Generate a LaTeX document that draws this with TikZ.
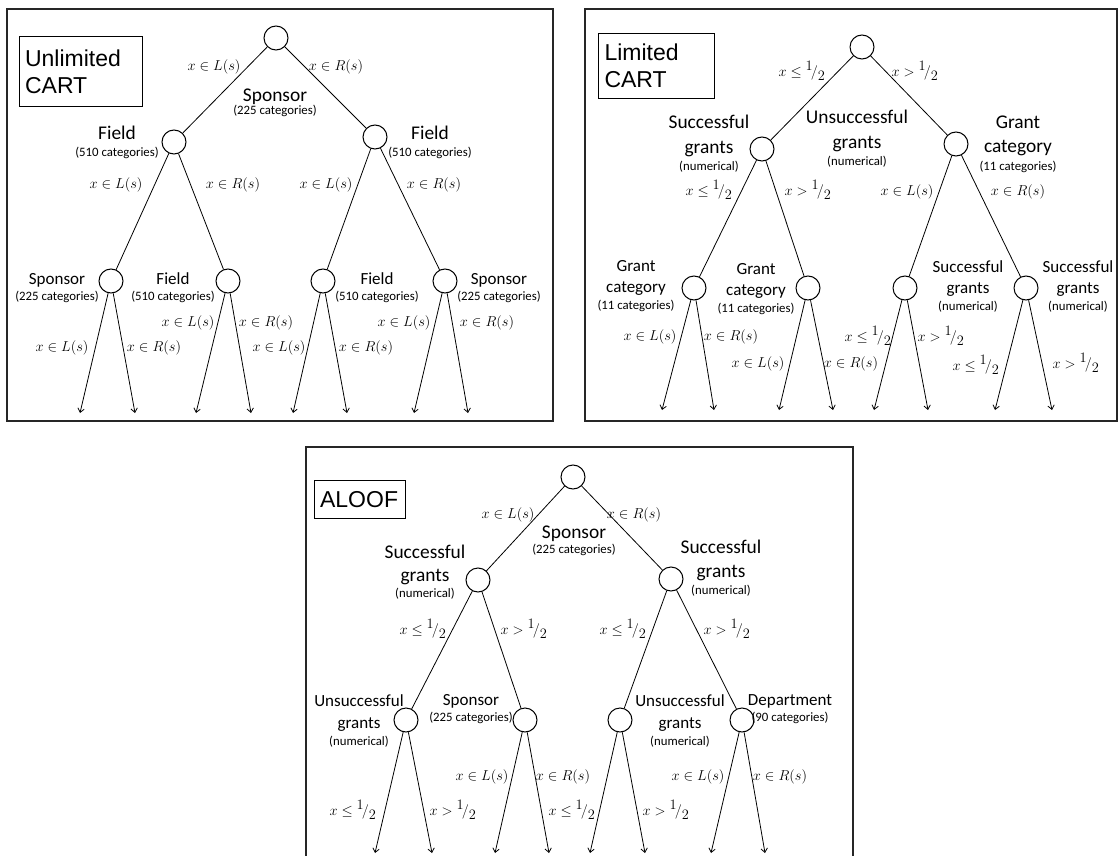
\documentclass[tikz,border=0pt]{standalone}
\usepackage[no-math]{fontspec}
\setmainfont{Carlito}
\newfontfamily\boxfont{Liberation Sans}
\usetikzlibrary{arrows.meta}
\newcommand\smtxt{\fontsize{12.8}{15}\selectfont}
\newcommand\halfv{{}^{\textstyle 1}\!/_{\textstyle 2}}
\newcommand\condL{$x\in L(s)$}
\newcommand\condR{$x\in R(s)$}
\newcommand\condLe{$x\le\halfv$}
\newcommand\condGt{$x>\halfv$}
\tikzset{
  >={Straight Barb[length=4pt,width=6.5pt]},
  split/.style={circle,draw,line width=1pt,minimum size=24pt,inner sep=0pt},
  desc/.style={font=\fontsize{19.4}{22}\selectfont,align=center,inner sep=0pt},
  desc2/.style={desc,font=\fontsize{17}{20}\selectfont},
  cond/.style={font=\fontsize{14.5}{16}\selectfont,inner sep=0pt},
  branch/.style={line width=0.8pt},
  leaf/.style={branch,->},
  panel/.style={draw=black!85,line width=1.3pt},
  titlebox/.style={draw,line width=1pt,anchor=north west,align=left,inner xsep=6pt,inner ysep=0pt,font=\boxfont\fontsize{23}{27}\selectfont},
}
\begin{document}
\begin{tikzpicture}[x=1pt,y=-1pt]
\fill[white] (0,0) rectangle (1119,856);
\useasboundingbox (0,0) rectangle (1119,856);
\draw[panel] (7,9) rectangle (553,421);
\draw[panel] (585,9) rectangle (1117,421);
\draw[panel] (306,447) rectangle (853,880);
\node[titlebox,text width=111pt,minimum height=70pt] (tA) at (18.6,36) {Unlimited\\CART};
\node[titlebox,text width=104pt,minimum height=65pt] (tB) at (598,33) {Limited\\CART};
\node[titlebox,text width=79pt,minimum height=38pt] (tC) at (313.6,480) {ALOOF};
\foreach \n/\x/\y in {a0/276/38,a1/174/142,a2/375/137,a3/111/281,a4/228/281,a5/323/281,a6/445/281,
  b0/862/47,b1/762/149,b2/956/144,b3/694/288,b4/808/288,b5/905/288,b6/1026/288,
  c0/573/477,c1/478/580,c2/671/579,c3/406/720,c4/525/720,c5/620/720,c6/742/720}
  \node[split] (\n) at (\x,\y) {};
\foreach \t in {a,b,c}\foreach \p/\c in {0/1,0/2,1/3,1/4,2/5,2/6}
  \draw[branch] (\t\p) -- (\t\c);
\foreach \n/\xl/\xr/\y in {a3/80/135/413,a4/196/251/413,a5/293/347/413,a6/414/468/413,
  b3/662/714/410,b4/779/833/410,b5/874/928/410,b6/995/1052/410,
  c3/375/432/853,c4/495/549/853,c5/590/645/853,c6/711/765/853}{
  \coordinate (\n e1) at (\xl,\y);
  \coordinate (\n e2) at (\xr,\y);
  \draw[leaf] (\n) -- (\n e1);
  \draw[leaf] (\n) -- (\n e2);
}
\foreach \nm/\x/\y/\t in {a0cl/214/67/\condL,a0cr/336/67/\condR,
  a1cl/116/185/\condL,a1cr/233/185/\condR,a2cl/326/185/\condL,a2cr/434/185/\condR,
  a3cl/62/348/\condL,a3cr/154/348/\condR,a4cl/188/323/\condL,a4cr/266/323/\condR,
  a5cl/279/348/\condL,a5cr/366/348/\condR,a6cl/404/323/\condL,a6cr/487/323/\condR,
  b0cl/802/71/\condLe,b0cr/915/71/\condGt,
  b1cl/709/190/\condLe,b1cr/808/190/\condGt,b2cl/907/192/\condL,b2cr/1018/192/\condR,
  b3cl/650/337/\condL,b3cr/731/337/\condR,b4cl/758/364/\condL,b4cr/851/364/\condR,
  b5cl/868/336/\condLe,b5cr/941/336/\condGt,b6cl/976/365/\condLe,b6cr/1076/363/\condGt,
  c0cl/508/515/\condL,c0cr/634/515/\condR,
  c1cl/423/629/\condLe,c1cr/524/629/\condGt,c2cl/623/629/\condLe,c2cr/727/629/\condGt,
  c3cl/353/810/\condLe,c3cr/453/810/\condGt,c4cl/482/777/\condL,c4cr/563/777/\condR,
  c5cl/572/810/\condLe,c5cr/666/810/\condGt,c6cl/698/777/\condL,c6cr/780/777/\condR}
  \node[cond] (\nm) at (\x,\y) {\t};
\node[desc] (a0d) at (275,102.5) {Sponsor\\[-9pt]\smtxt(225 categories)};
\node[desc] (a1d) at (117,142.5) {Field\\[-5pt]\smtxt(510 categories)};
\node[desc] (a2d) at (430,142.5) {Field\\[-5pt]\smtxt(510 categories)};
\node[desc2] (a3d) at (57,288) {Sponsor\\[-4pt]\smtxt(225 categories)};
\node[desc2] (a4d) at (173,288) {Field\\[-4pt]\smtxt(510 categories)};
\node[desc2] (a5d) at (377,288) {Field\\[-4pt]\smtxt(510 categories)};
\node[desc2] (a6d) at (499,288) {Sponsor\\[-4pt]\smtxt(225 categories)};
\node[desc] (b0d) at (857,139) {Unsuccessful\\[3pt]grants\\[-5pt]\smtxt(numerical)};
\node[desc] (b1d) at (709,144) {Successful\\[3pt]grants\\[-5pt]\smtxt(numerical)};
\node[desc] (b2d) at (1018,144) {Grant\\[2pt]category\\[-4pt]\smtxt(11 categories)};
\node[desc2] (b3d) at (636,286.5) {Grant\\[1pt]category\\[-3pt]\smtxt(11 categories)};
\node[desc2] (b4d) at (756,289.5) {Grant\\[1pt]category\\[-3pt]\smtxt(11 categories)};
\node[desc2] (b5d) at (968,286.5) {Successful\\[1pt]grants\\[-3pt]\smtxt(numerical)};
\node[desc2] (b6d) at (1078,286.5) {Successful\\[1pt]grants\\[-3pt]\smtxt(numerical)};
\node[desc] (c0d) at (574,541) {Sponsor\\[-7pt]\smtxt(225 categories)};
\node[desc] (c1d) at (425,572.5) {Successful\\[1pt]grants\\[-6pt]\smtxt(numerical)};
\node[desc] (c2d) at (721,568.5) {Successful\\[2pt]grants\\[-5pt]\smtxt(numerical)};
\node[desc2] (c3d) at (359,720.5) {Unsuccessful\\[2pt]grants\\[-3pt]\smtxt(numerical)};
\node[desc2] (c4d) at (471,709.5) {Sponsor\\[-4pt]\smtxt(225 categories)};
\node[desc2] (c5d) at (680,720.5) {Unsuccessful\\[2pt]grants\\[-3pt]\smtxt(numerical)};
\node[desc2] (c6d) at (790,709.5) {Department\\[-4pt]\smtxt(90 categories)};
\end{tikzpicture}
\end{document}
